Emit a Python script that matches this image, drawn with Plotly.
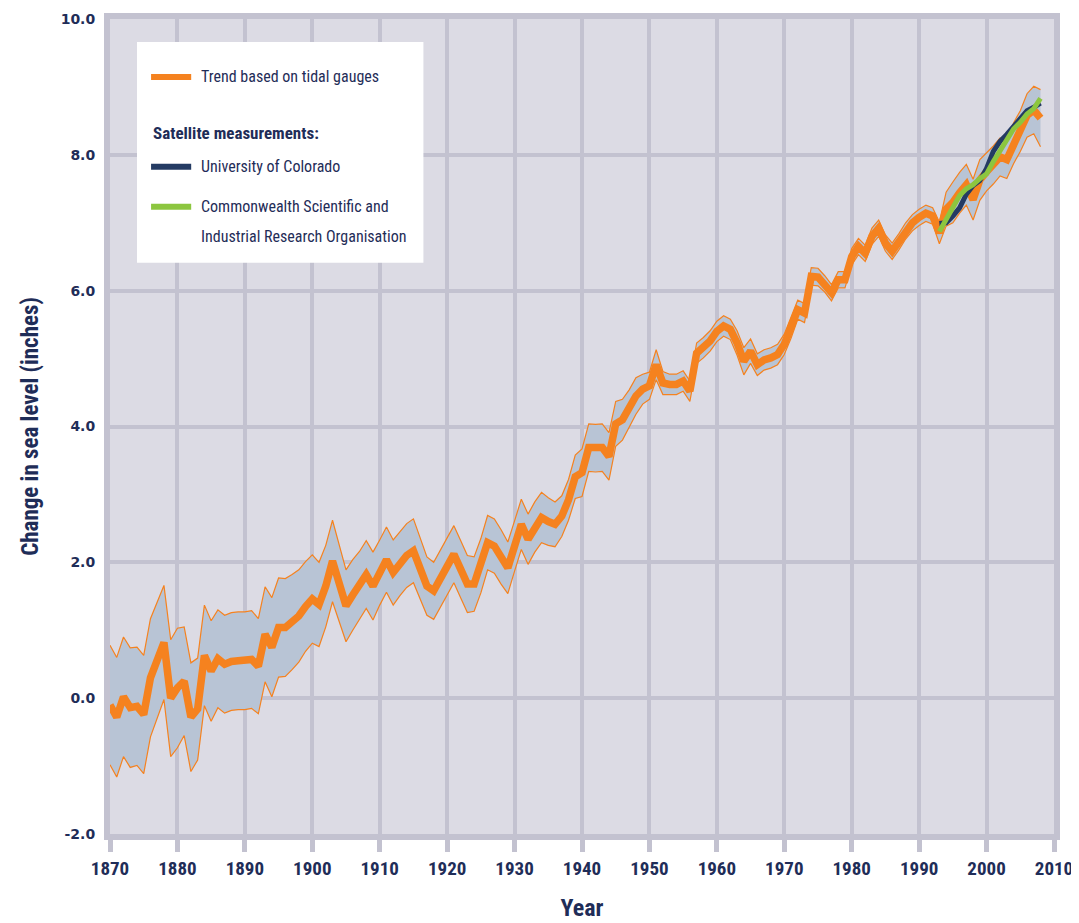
import plotly.graph_objects as go

years = list(range(1870, 2009))

tidal_trend = [
    -0.10, -0.28, 0.02, -0.14, -0.12, -0.24, 0.30, 0.55, 0.82, 0.00,   # 1870s
    0.15, 0.25, -0.28, -0.16, 0.63, 0.40, 0.58, 0.50, 0.54, 0.55,      # 1880s
    0.55, 0.57, 0.47, 0.94, 0.75, 1.04, 1.04, 1.12, 1.21, 1.35,        # 1890s
    1.46, 1.38, 1.65, 2.02, 1.70, 1.36, 1.52, 1.66, 1.82, 1.65,        # 1900s
    1.85, 2.04, 1.85, 1.98, 2.10, 2.17, 1.90, 1.65, 1.58, 1.76,        # 1910s
    1.94, 2.12, 1.90, 1.68, 1.68, 1.95, 2.29, 2.24, 2.08, 1.92,        # 1920s
    2.24, 2.56, 2.34, 2.52, 2.66, 2.60, 2.56, 2.68, 2.92, 3.26,        # 1930s
    3.32, 3.69, 3.68, 3.69, 3.56, 4.04, 4.10, 4.26, 4.45, 4.55,        # 1940s
    4.60, 4.91, 4.64, 4.62, 4.62, 4.67, 4.52, 5.08, 5.16, 5.26,        # 1950s
    5.40, 5.48, 5.43, 5.23, 4.96, 5.11, 4.91, 4.98, 5.01, 5.06,        # 1960s
    5.21, 5.45, 5.72, 5.67, 6.21, 6.20, 6.10, 5.97, 6.16, 6.16,        # 1970s
    6.50, 6.65, 6.55, 6.80, 6.92, 6.70, 6.58, 6.72, 6.88, 7.00,        # 1980s
    7.08, 7.14, 7.10, 6.85, 7.20, 7.30, 7.44, 7.56, 7.34, 7.63,        # 1990s
    7.75, 7.85, 7.97, 7.93, 8.17, 8.35, 8.58, 8.66, 8.54,              # 2000s
]

tidal_uncertainty = [
    0.88, 0.88, 0.88, 0.88, 0.87, 0.87, 0.87, 0.86, 0.84, 0.86,
    0.88, 0.80, 0.80, 0.75, 0.74, 0.74, 0.72, 0.72, 0.72, 0.72,
    0.72, 0.72, 0.70, 0.70, 0.73, 0.73, 0.72, 0.70, 0.68, 0.66,
    0.65, 0.62, 0.60, 0.60, 0.56, 0.53, 0.52, 0.50, 0.50, 0.50,
    0.48, 0.48, 0.48, 0.47, 0.47, 0.47, 0.45, 0.43, 0.42, 0.42,
    0.42, 0.42, 0.42, 0.42, 0.40, 0.40, 0.40, 0.40, 0.40, 0.38,
    0.37, 0.37, 0.37, 0.37, 0.37, 0.35, 0.33, 0.30, 0.30, 0.32,
    0.35, 0.35, 0.35, 0.35, 0.35, 0.33, 0.30, 0.28, 0.27, 0.22,
    0.20, 0.22, 0.17, 0.15, 0.15, 0.15, 0.15, 0.15, 0.15, 0.15,
    0.15, 0.15, 0.15, 0.18, 0.20, 0.18, 0.16, 0.15, 0.15, 0.15,
    0.15, 0.15, 0.14, 0.14, 0.13, 0.13, 0.12, 0.12, 0.12, 0.12,
    0.12, 0.12, 0.12, 0.12, 0.12, 0.12, 0.12, 0.12, 0.12, 0.12,
    0.12, 0.12, 0.12, 0.16, 0.25, 0.30, 0.30, 0.30, 0.30, 0.30,
    0.28, 0.28, 0.28, 0.28, 0.30, 0.30, 0.32, 0.35, 0.42,
]

sat_years = list(range(1993, 2009))
colorado = [6.99, 7.00, 7.10, 7.22, 7.42, 7.55, 7.62, 7.80, 8.05, 8.20, 8.30, 8.42, 8.55, 8.65, 8.70, 8.76]
csiro = [6.87, 7.05, 7.22, 7.40, 7.50, 7.56, 7.65, 7.72, 7.90, 8.07, 8.22, 8.38, 8.48, 8.60, 8.68, 8.83]

x_ticks = list(range(1870, 2011, 10))
y_ticks = [-2, 0, 2, 4, 6, 8, 10]
y_tick_labels = ["-2.0", "0.0", "2.0", "4.0", "6.0", "8.0", "10.0"]

ORANGE = "#f5821f"
NAVY = "#243b63"
GREEN = "#8cc63f"
BAND = "#b8c4d5"
PLOT_BG = "#dcdbe4"
GRID = "#c3c2d0"
TEXT = "#1f2d58"
NARROW = "Liberation Sans Narrow, Roboto Condensed, Arial Narrow, Roboto, sans-serif"

upper = [c + e for c, e in zip(tidal_trend, tidal_uncertainty)]
lower = [c - e for c, e in zip(tidal_trend, tidal_uncertainty)]

fig = go.Figure()
fig.add_trace(go.Scatter(x=years, y=lower, mode="lines",
                         line=dict(color=ORANGE, width=1.2), showlegend=False, hoverinfo="skip"))
fig.add_trace(go.Scatter(x=years, y=upper, mode="lines", fill="tonexty", fillcolor=BAND,
                         line=dict(color=ORANGE, width=1.2), showlegend=False, hoverinfo="skip"))
fig.add_trace(go.Scatter(x=years, y=tidal_trend, mode="lines", name="Trend based on tidal gauges",
                         line=dict(color=ORANGE, width=7.5), showlegend=False))
fig.add_trace(go.Scatter(x=sat_years, y=colorado, mode="lines", name="University of Colorado",
                         line=dict(color=NAVY, width=5), showlegend=False))
fig.add_trace(go.Scatter(x=sat_years, y=csiro, mode="lines",
                         name="Commonwealth Scientific and Industrial Research Organisation",
                         line=dict(color=GREEN, width=5), showlegend=False))

# Legend box (drawn manually)
fig.add_shape(type="rect", xref="paper", yref="paper", x0=0.0286, x1=0.332, y0=0.701, y1=0.9718,
              fillcolor="white", line=dict(width=0), layer="above")
legend_items = [
    (0.9289, ORANGE, "Trend based on tidal gauges"),
    (0.8186, NAVY, "University of Colorado"),
    (0.7696, GREEN, "Commonwealth Scientific and"),
]
for yy, col, txt in legend_items:
    fig.add_shape(type="line", xref="paper", yref="paper", x0=0.0435, x1=0.0860, y0=yy, y1=yy,
                  line=dict(color=col, width=6), layer="above")
    fig.add_annotation(xref="paper", yref="paper", x=0.0944, y=yy, text=txt, showarrow=False,
                       xanchor="left", yanchor="middle", font=dict(family=NARROW, size=16, color=TEXT))
fig.add_annotation(xref="paper", yref="paper", x=0.0944, y=0.7328,
                   text="Industrial Research Organisation", showarrow=False,
                   xanchor="left", yanchor="middle", font=dict(family=NARROW, size=16, color=TEXT))
fig.add_annotation(xref="paper", yref="paper", x=0.0435, y=0.8603,
                   text="<b>Satellite measurements:</b>", showarrow=False,
                   xanchor="left", yanchor="middle", font=dict(family=NARROW, size=17, color=TEXT))

# The page body adds an 8px offset, so the figure is sized to fit the window
fig.update_layout(
    width=1071, height=915,
    margin=dict(l=102, r=25, t=11, b=89),
    paper_bgcolor="white",
    plot_bgcolor=PLOT_BG,
    showlegend=False,
    xaxis=dict(
        range=[1870, 2010], tickvals=x_ticks, ticktext=[str(v) for v in x_ticks],
        showgrid=True, gridcolor=GRID, gridwidth=4,
        showline=True, linecolor=GRID, linewidth=6, mirror=True,
        ticks="outside", ticklen=12, tickwidth=5, tickcolor=GRID,
        tickfont=dict(family=NARROW, size=19, color=TEXT, weight="bold"),
        zeroline=False, automargin=False,
        title=dict(text="<b>Year</b>", font=dict(family=NARROW, size=24, color=TEXT), standoff=22),
    ),
    yaxis=dict(
        range=[-2, 10], tickvals=y_ticks, ticktext=y_tick_labels,
        showgrid=True, gridcolor=GRID, gridwidth=4,
        showline=True, linecolor=GRID, linewidth=6, mirror=True,
        ticks="", ticklabelstandoff=6,
        tickfont=dict(family="DejaVu Sans", size=14, color=TEXT, weight="bold"),
        zeroline=False, automargin=False,
        title=dict(text="<b>Change in sea level (inches)</b>",
                   font=dict(family=NARROW, size=23, color=TEXT), standoff=18),
    ),
)

fig.write_html("out.html")
